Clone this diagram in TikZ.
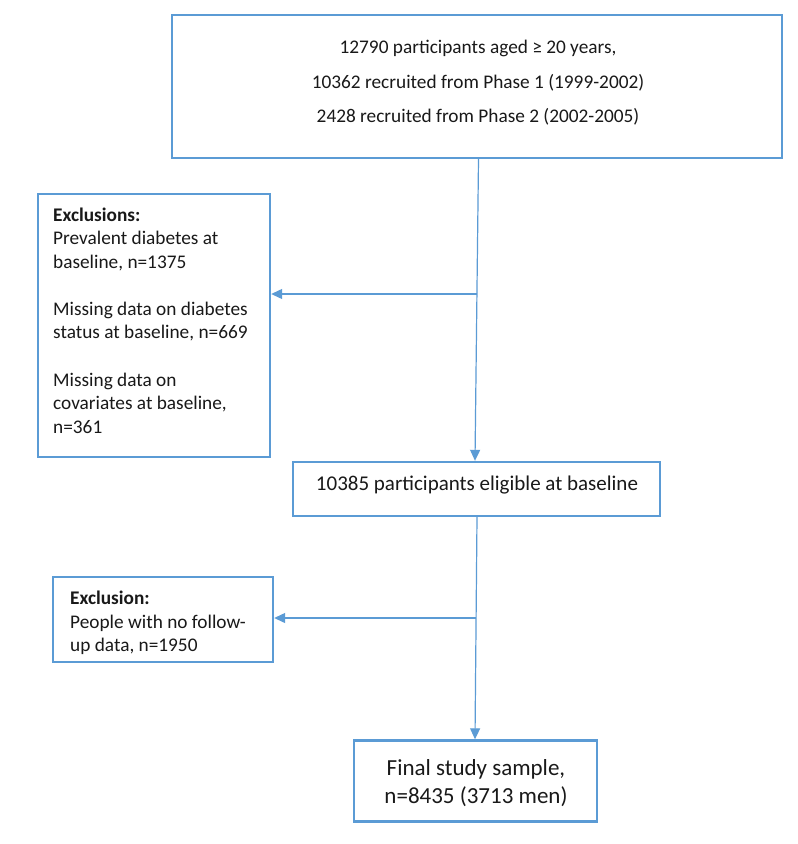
\documentclass[tikz,border=0pt]{standalone}
\usepackage{fontspec}
\setmainfont{Carlito}
\usetikzlibrary{arrows.meta}
\definecolor{boxblue}{HTML}{5B9BD5}
\tikzset{
  box/.style={draw=boxblue, line width=2.4pt, inner sep=0pt, fill=white},
  conn/.style={draw=boxblue, line width=1.2pt},
  arr/.style={conn, -{Triangle[length=11pt,width=10pt]}},
  ctext/.style={anchor=base, inner sep=0pt, text=black!90},
  ltext/.style={anchor=base west, inner sep=0pt, text=black!90},
  fA/.style={font=\fontsize{19.3}{23.6}\selectfont},
  fB/.style={font=\fontsize{21}{25}\selectfont},
  fC/.style={font=\fontsize{23}{28}\selectfont}
}
\begin{document}
\begin{tikzpicture}[x=1pt,y=-1pt]
\useasboundingbox[fill=white] (0,0) rectangle (798,844);
% boxes
\node[box, minimum width=610pt, minimum height=143pt] (top) at (477,86.5) {};
\node[box, minimum width=232pt, minimum height=263pt] (excl) at (154,325.5) {};
\node[box, minimum width=367pt, minimum height=54pt] (elig) at (476.5,489) {};
\node[box, minimum width=220pt, minimum height=85pt] (ex2) at (163,619.5) {};
\node[box, minimum width=243pt, minimum height=81pt] (fin) at (475.5,781) {};
% top text
\node[ctext, fA] (t1) at (478,53) {12790 participants aged ≥ 20 years,};
\node[ctext, fA] (t2) at (478,88) {10362 recruited from Phase 1 (1999-2002)};
\node[ctext, fA] (t3) at (478,122) {2428 recruited from Phase 2 (2002-2005)};
% exclusions text
\node[ltext, fA] (e1) at (53,221) {\textbf{Exclusions:}};
\node[ltext, fA] (e2) at (53,244.5) {Prevalent diabetes at};
\node[ltext, fA] (e3) at (53,268) {baseline, n=1375};
\node[ltext, fA] (e4) at (53,315) {Missing data on diabetes};
\node[ltext, fA] (e5) at (53,338.5) {status at baseline, n=669};
\node[ltext, fA] (e6) at (53,386) {Missing data on};
\node[ltext, fA] (e7) at (53,409.5) {covariates at baseline,};
\node[ltext, fA] (e8) at (53,433) {n=361};
% eligible
\node[ctext, fB] (g1) at (477,490) {10385 participants eligible at baseline};
% exclusion 2
\node[ltext, fA] (x1) at (70,604) {\textbf{Exclusion:}};
\node[ltext, fA] (x2) at (70,628) {People with no follow-};
\node[ltext, fA] (x3) at (70,651) {up data, n=1950};
% final
\node[ctext, fC] (f1) at (476,775) {Final study sample,};
\node[ctext, fC] (f2) at (476,803) {n=8435 (3713 men)};
% connectors
\coordinate (a1) at (478.5,0);
\coordinate (a2) at (475,0);
\coordinate (b1) at (477,0);
\coordinate (b2) at (475,0);
\coordinate (j1) at (476.9,294);
\coordinate (j2) at (476.1,618);
\draw[arr] (top.south -| a1) -- (elig.north -| a2);
\draw[arr] (j1) -- (excl.east |- j1);
\draw[arr] (elig.south -| b1) -- (fin.north -| b2);
\draw[arr] (j2) -- (ex2.east |- j2);
\end{tikzpicture}
\end{document}
